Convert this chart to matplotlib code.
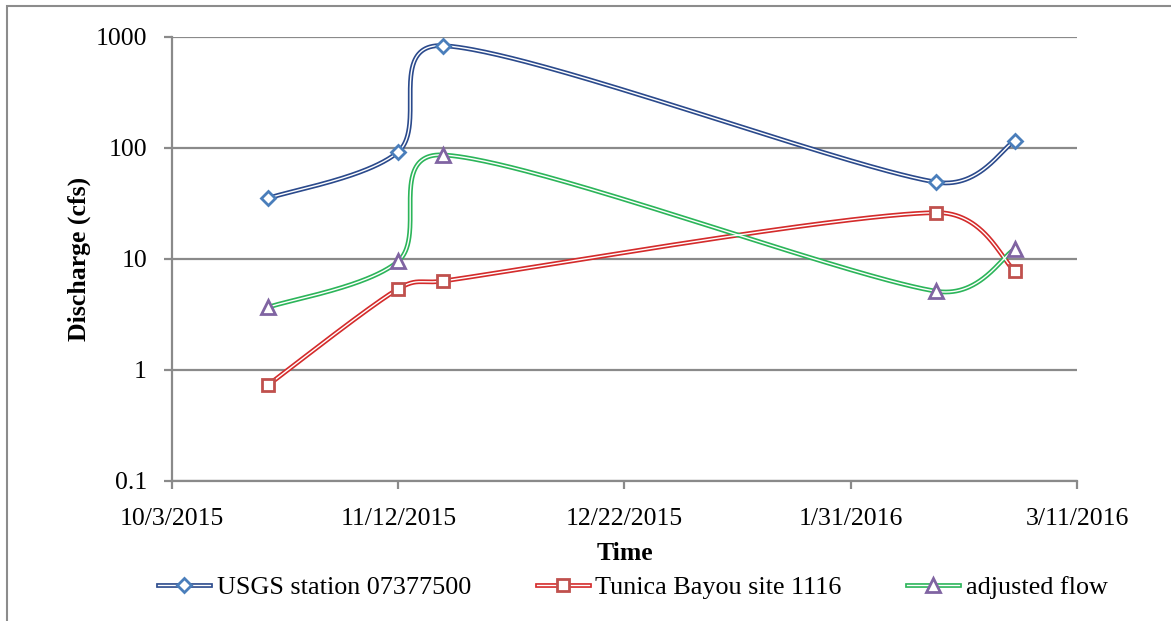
import numpy as np
import matplotlib
matplotlib.use("Agg")
import matplotlib.pyplot as plt
import matplotlib.dates as mdates
from matplotlib.lines import Line2D
from matplotlib.legend_handler import HandlerTuple
from matplotlib.patches import Rectangle
import datetime as dt

plt.rcParams['font.family'] = ['Liberation Serif', 'DejaVu Serif']

# ---- data ----
dates = ["2015-10-20", "2015-11-12", "2015-11-20", "2016-02-15", "2016-02-29"]
usgs = [35.0, 92.0, 830.0, 49.0, 115.0]
tunica = [0.73, 5.35, 6.3, 26.0, 7.8]
adjusted = [3.65, 9.5, 86.0, 5.1, 12.2]

series_names = ["USGS station 07377500", "Tunica Bayou site 1116", "adjusted flow"]
xtick_dates = ["2015-10-03", "2015-11-12", "2015-12-22", "2016-01-31", "2016-03-11"]
xtick_labels = ["10/3/2015", "11/12/2015", "12/22/2015", "1/31/2016", "3/11/2016"]
ytick_vals = [0.1, 1, 10, 100, 1000]
ytick_labels = ["0.1", "1", "10", "100", "1000"]

line_colors = ["#2b4a8c", "#d42b2b", "#2cb55a"]
marker_colors = ["#4a7ebb", "#c0504d", "#8064a2"]
markers = ["D", "s", "^"]
marker_sizes = [7, 9, 9.5]

W, H = 1171, 621
fig = plt.figure(figsize=(W / 100, H / 100), dpi=100)
ax = fig.add_axes([172 / W, 1 - 480.7 / H, (1077 - 172) / W, (480.7 - 36.7) / H])

# outer frame (left and top edges visible)
fig.patches.append(Rectangle((7 / W, -0.1), 1.2, 1 - 5.5 / H + 0.1, transform=fig.transFigure,
                             fill=False, edgecolor="#8c8c8c", lw=1.5, zorder=0))

ax.set_yscale("log")
xnum = mdates.date2num([dt.datetime.fromisoformat(d) for d in dates])
xt = mdates.date2num([dt.datetime.fromisoformat(d) for d in xtick_dates])
ax.set_xlim(xt[0], xt[-1])
ax.set_ylim(0.1, 1000)


def smooth(xs, ys, n=100):
    # Excel-style smoothed line: Bezier segments with limited control lengths, in display space
    pts = ax.transData.transform(np.column_stack([xs, ys]))
    out = []
    m = len(pts)
    f = 1.0 / 6.0
    for i in range(m - 1):
        p0 = pts[i - 1] if i > 0 else pts[i]
        p1 = pts[i]
        p2 = pts[i + 1]
        p3 = pts[i + 2] if i + 2 < m else pts[i + 1]
        d02 = np.hypot(*(p2 - p0))
        d13 = np.hypot(*(p3 - p1))
        d12 = np.hypot(*(p2 - p1))
        f1 = f if d02 * f < d12 / 2 else d12 / d02 / 2
        f2 = f if d13 * f < d12 / 2 else d12 / d13 / 2
        c1 = p1 + (p2 - p0) * f1
        c2 = p2 - (p3 - p1) * f2
        t = np.linspace(0, 1, n)[:, None]
        seg = ((1 - t) ** 3) * p1 + 3 * ((1 - t) ** 2) * t * c1 + 3 * (1 - t) * t ** 2 * c2 + t ** 3 * p2
        out.append(seg if i == 0 else seg[1:])
    out = np.vstack(out)
    d = ax.transData.inverted().transform(out)
    return d[:, 0], d[:, 1]


handles = []
for vals, lc, mc, mk, ms in zip([usgs, tunica, adjusted], line_colors, marker_colors, markers, marker_sizes):
    sx, sy = smooth(xnum, vals)
    ax.plot(sx, sy, color=lc, lw=3.4, solid_capstyle="round", zorder=3)
    ax.plot(sx, sy, color="white", lw=1.0, zorder=4)
    ax.plot(xnum, vals, linestyle="none", marker=mk, ms=ms, mfc="white", mec=mc, mew=2.0, zorder=5)
    h = (Line2D([], [], color=lc, lw=3.4),
         Line2D([], [], color="white", lw=1.0),
         Line2D([], [], linestyle="none", marker=mk, ms=ms, mfc="white", mec=mc, mew=2.0))
    handles.append(h)

# axes styling
ax.set_xticks(xt)
ax.set_xticklabels(xtick_labels)
ax.set_yticks(ytick_vals)
ax.set_yticklabels(ytick_labels)
ax.yaxis.set_minor_locator(matplotlib.ticker.NullLocator())
ax.grid(axis="y", color="#8a8a8a", lw=1.6)
ax.set_axisbelow(True)
for s in ["top", "right"]:
    ax.spines[s].set_visible(False)
for s in ["left", "bottom"]:
    ax.spines[s].set_color("#8a8a8a")
    ax.spines[s].set_linewidth(1.6)
ax.tick_params(axis="both", colors="#8a8a8a", width=1.6, length=6, labelcolor="black", labelsize=18.5)
ax.tick_params(axis="y", pad=12)
ax.tick_params(axis="x", pad=14)

ax.set_xlabel("Time", fontsize=18.5, fontweight="bold", labelpad=8)
ax.set_ylabel("Discharge (cfs)", fontsize=18.5, fontweight="bold", labelpad=3)

fig.legend(handles, series_names, handler_map={tuple: HandlerTuple(ndivide=1, pad=0)},
           loc="center", bbox_to_anchor=(0.5405, 1 - 587 / H), ncol=3, frameon=False,
           fontsize=18.8, handlelength=2.0, handletextpad=0.25, columnspacing=2.5)

fig.savefig("out.png", dpi=100)
